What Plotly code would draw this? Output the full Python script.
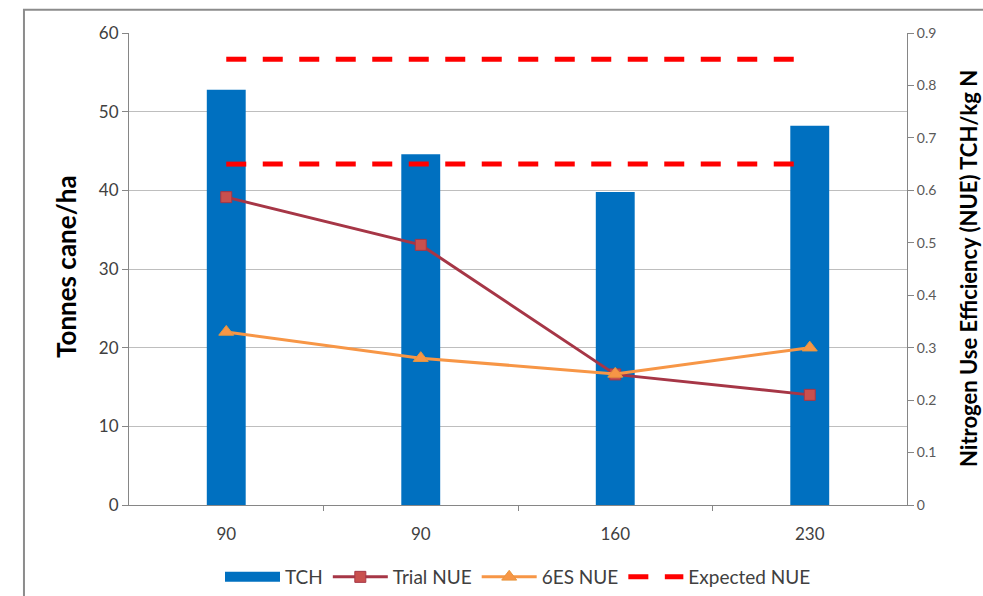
import plotly.graph_objects as go

# Nitrogen rate (kg N/ha) per treatment, cane yield and nitrogen use efficiency
n_rates = ["90", "90", "160", "230"]
tch = [52.8, 44.6, 39.8, 48.2]
trial_nue = [0.587, 0.496, 0.249, 0.210]
six_es_nue = [0.33, 0.28, 0.25, 0.30]
expected_nue_high = [0.85, 0.85, 0.85, 0.85]
expected_nue_low = [0.65, 0.65, 0.65, 0.65]

pos = list(range(len(n_rates)))
FONT = "Lato, 'Open Sans', sans-serif"
AXIS_GREY = "#868686"
BAR_BLUE = "#0070C0"
DASH = "20px,16.5px"

fig = go.Figure()

fig.add_trace(go.Bar(
    x=pos, y=tch, name="TCH", width=0.2, showlegend=False,
    marker=dict(color=BAR_BLUE, line=dict(width=0)),
))
# wide legend swatch for the bars
fig.add_trace(go.Scatter(
    x=[None], y=[None], name="TCH", mode="lines",
    line=dict(color=BAR_BLUE, width=11),
))
fig.add_trace(go.Scatter(
    x=pos, y=trial_nue, name="Trial NUE", yaxis="y2", mode="lines+markers",
    line=dict(color="#A63646", width=3),
    marker=dict(symbol="square", size=11, color="#C9504E",
                line=dict(color="#A63646", width=1)),
))
fig.add_trace(go.Scatter(
    x=pos, y=six_es_nue, name="6ES NUE", yaxis="y2", mode="lines+markers",
    line=dict(color="#F79646", width=3),
    marker=dict(symbol="triangle-up", size=13, color="#F79646",
                line=dict(color="#E8963E", width=1)),
))
fig.add_trace(go.Scatter(
    x=pos, y=expected_nue_high, name="Expected NUE", yaxis="y2", mode="lines",
    line=dict(color="#FF0000", width=5, dash=DASH),
))
fig.add_trace(go.Scatter(
    x=pos, y=expected_nue_low, name="Expected NUE", yaxis="y2", mode="lines",
    line=dict(color="#FF0000", width=5, dash=DASH), showlegend=False,
))
# carrier for the between-category tick marks
fig.add_trace(go.Scatter(
    x=[pos[0]], y=[0], xaxis="x2", mode="markers",
    marker=dict(opacity=0), showlegend=False, hoverinfo="skip",
))

fig.update_layout(
    width=983, height=596,
    margin=dict(l=129, r=76, t=33, b=91),
    paper_bgcolor="white", plot_bgcolor="white",
    font=dict(family=FONT, color="#404040"),
    showlegend=True,
    legend=dict(orientation="h", x=0.5, xanchor="center",
                yref="container", y=(596 - 577) / 596, yanchor="middle",
                font=dict(size=19, color="#404040"), traceorder="normal",
                itemwidth=55, tracegroupgap=0),
    bargap=0.8,
    xaxis=dict(
        range=[-0.5, 3.5], tickvals=pos, ticktext=n_rates,
        ticks="", showgrid=False, zeroline=False,
        showline=True, linecolor=AXIS_GREY, linewidth=1,
        tickfont=dict(size=17, color="#404040"), ticklabelstandoff=14,
    ),
    xaxis2=dict(
        overlaying="x", matches="x", range=[-0.5, 3.5],
        tickvals=[0.5, 1.5, 2.5], ticks="outside", ticklen=5, tickcolor=AXIS_GREY,
        showticklabels=False, showgrid=False, zeroline=False, showline=False,
        anchor="y",
    ),
    yaxis=dict(
        range=[0, 60], dtick=10, ticks="outside", ticklen=6, tickcolor=AXIS_GREY,
        showgrid=True, gridcolor="#BEBEBE", gridwidth=1, zeroline=False,
        showline=True, linecolor=AXIS_GREY, linewidth=1,
        tickfont=dict(size=17, color="#404040"),
    ),
    yaxis2=dict(
        range=[0, 0.9], dtick=0.1, overlaying="y", side="right",
        ticks="outside", ticklen=6, tickcolor=AXIS_GREY,
        showgrid=False, zeroline=False,
        showline=True, linecolor=AXIS_GREY, linewidth=1,
        tickfont=dict(size=14, color="#595959"),
    ),
    annotations=[
        dict(text="<b>Tonnes cane/ha</b>", textangle=-90, showarrow=False,
             xref="paper", yref="paper", x=(66 - 129) / 778, y=(505 - 267) / 472,
             xanchor="center", yanchor="middle",
             font=dict(size=26, color="#000000", family=FONT)),
        dict(text="<b>Nitrogen Use Efficiency (NUE) TCH/kg N</b>", textangle=-90,
             showarrow=False, xref="paper", yref="paper",
             x=(968 - 129) / 778, y=(505 - 269) / 472,
             xanchor="center", yanchor="middle",
             font=dict(size=22, color="#000000", family=FONT)),
    ],
    shapes=[dict(
        type="rect", xref="paper", yref="paper",
        x0=-0.135, x1=1.12, y0=-0.25, y1=1.049,
        line=dict(color="#8C8C8C", width=2), fillcolor="rgba(0,0,0,0)", layer="below",
    )],
)

fig.write_html("out.html")
